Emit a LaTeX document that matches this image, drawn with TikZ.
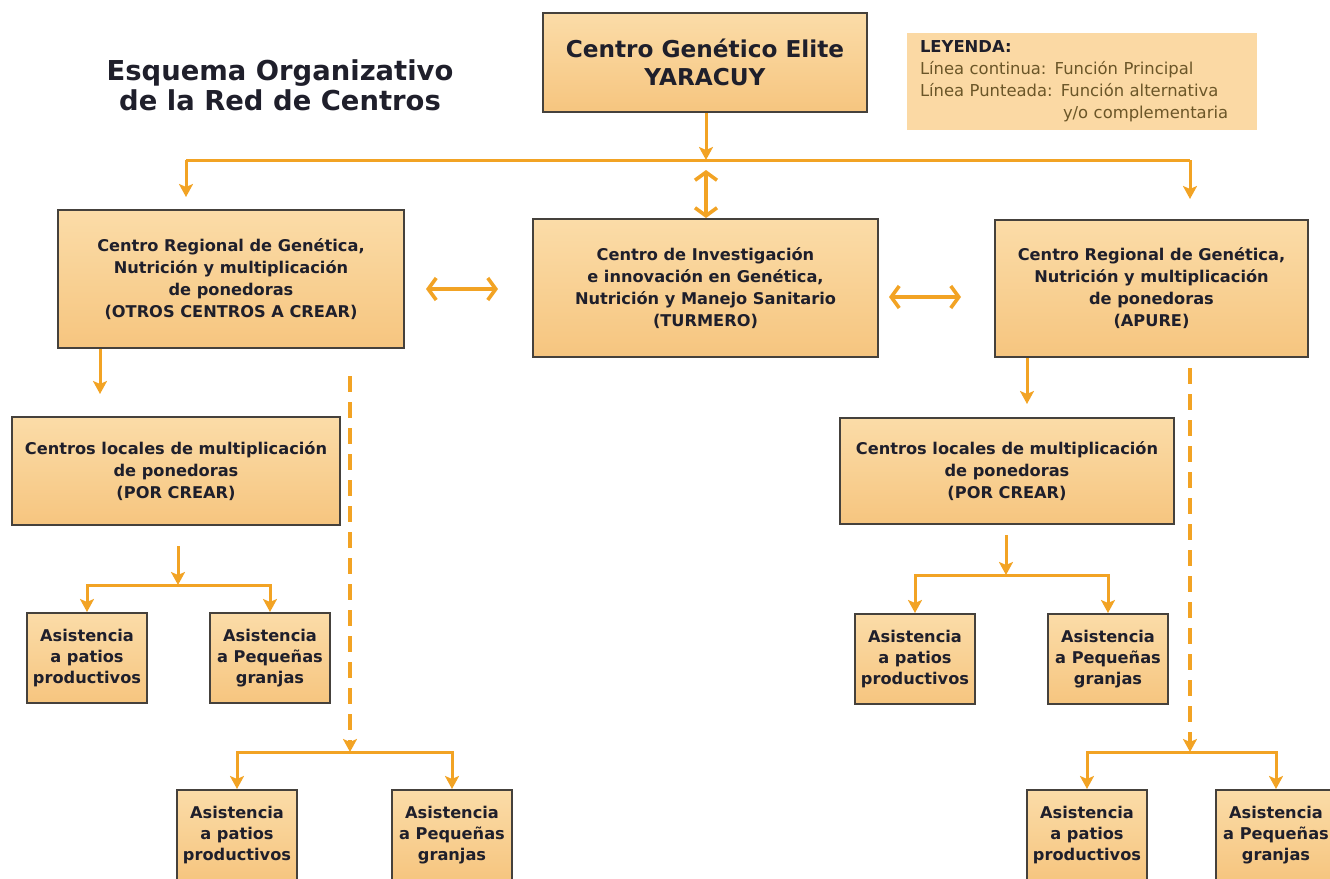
\documentclass[tikz,border=0pt]{standalone}
\usepackage{fontspec}
\setmainfont{DejaVu Sans}
\usepackage{tikz}
\usetikzlibrary{arrows.meta, positioning, calc}
\definecolor{RedLine}{HTML}{F2A324}
\definecolor{RedEdge}{HTML}{45413C}
\definecolor{RedTop}{HTML}{FBDCA8}
\definecolor{RedBottom}{HTML}{F6C57F}
\definecolor{RedLegend}{HTML}{FBD9A4}
\definecolor{RedInk}{HTML}{1F1F2B}
\definecolor{RedNote}{HTML}{6B5628}

\begin{document}
\begin{tikzpicture}[x=0.5pt, y=-0.5pt, every node/.style={font=\fontsize{8.1}{11}\selectfont\bfseries, text=RedInk}, >=Stealth]
      \tikzset{
        centro/.style={rectangle, draw=RedEdge, line width=1pt, top color=RedTop, bottom color=RedBottom, align=center, inner sep=0pt},
        asist/.style={centro, minimum width=60pt, minimum height=45pt, font=\fontsize{8.1}{10.5}\selectfont\bfseries},
        leyenda/.style={rectangle, fill=RedLegend, minimum width=175pt, minimum height=48.5pt, text width=162pt, align=left, inner sep=0pt, font=\fontsize{8.2}{11}\selectfont, text=RedNote},
        titulo/.style={align=center, font=\fontsize{13.7}{15}\selectfont\bfseries},
        barra/.style={line width=1.5pt, draw=RedLine},
        flecha/.style={-{Stealth[length=6.5pt, width=7pt, inset=1.5pt]}, line width=1.5pt, draw=RedLine},
        alterna/.style={flecha, line width=2pt, dash pattern=on 8pt off 5pt},
        doble/.style={{Straight Barb[length=4pt, width=11pt]}-{Straight Barb[length=4pt, width=11pt]}, line width=1.8pt, draw=RedLine}
      }
      \useasboundingbox (0,0) rectangle (1330,879);

      \node[titulo] (titulo) at (280,85) {Esquema Organizativo\\de la Red de Centros};
      \node[centro, minimum width=162pt, minimum height=49.5pt, font=\fontsize{11.6}{14}\selectfont\bfseries] (elite) at (705,62.5) {Centro Genético Elite\\YARACUY};
      \node[leyenda] (leyenda) at (1082,81.5) {{\color{RedInk}\bfseries LEYENDA:}\\Línea continua: Función Principal\\Línea Punteada: Función alternativa\\\hspace*{71.5pt}y/o complementaria};

      \node[centro, minimum width=173pt, minimum height=69pt] (regL) at (231,279) {Centro Regional de Genética,\\Nutrición y multiplicación\\de ponedoras\\(OTROS CENTROS A CREAR)};
      \node[centro, minimum width=172.5pt, minimum height=69pt] (inv) at (705.5,288) {Centro de Investigación\\e innovación en Genética,\\Nutrición y Manejo Sanitario\\(TURMERO)};
      \node[centro, minimum width=156.5pt, minimum height=68.5pt] (regR) at (1151.5,288.5) {Centro Regional de Genética,\\Nutrición y multiplicación\\de ponedoras\\(APURE)};

      \node[centro, minimum width=164pt, minimum height=54pt] (locL) at (176,471) {Centros locales de multiplicación\\de ponedoras\\(POR CREAR)};
      \node[centro, minimum width=167pt, minimum height=53pt] (locR) at (1007,471) {Centros locales de multiplicación\\de ponedoras\\(POR CREAR)};

      \node[asist] (patL1) at (87,658) {Asistencia\\a patios\\productivos};
      \node[asist] (peqL1) at (270,658) {Asistencia\\a Pequeñas\\granjas};
      \node[asist] (patL2) at (237,835) {Asistencia\\a patios\\productivos};
      \node[asist] (peqL2) at (452,835) {Asistencia\\a Pequeñas\\granjas};
      \node[asist] (patR1) at (915,659) {Asistencia\\a patios\\productivos};
      \node[asist] (peqR1) at (1108,659) {Asistencia\\a Pequeñas\\granjas};
      \node[asist] (patR2) at (1087,835) {Asistencia\\a patios\\productivos};
      \node[asist] (peqR2) at (1276,835) {Asistencia\\a Pequeñas\\granjas};

      % bus under the elite centre
      \coordinate (bus) at (706,160);
      \coordinate (busL) at (186,160);
      \coordinate (busR) at (1190,160);
      \draw[flecha] (elite.south -| bus) -- (bus);
      \draw[barra] (busL) -- (busR);
      \draw[flecha, shorten >=6pt] (busL) -- (busL |- regL.north);
      \draw[flecha, shorten >=10pt] (busR) -- (busR |- regR.north);
      \draw[doble, shorten <=5pt] (bus) -- (bus |- inv.north);
      \draw[doble, shorten <=10.5pt, shorten >=17pt] (regL.east |- 0,289) -- (inv.west |- 0,289);
      \draw[doble, shorten <=5pt, shorten >=16.5pt] (inv.east |- 0,297) -- (regR.west |- 0,297);

      % left branch
      \coordinate (hubL1) at (178,585);
      \coordinate (hubL2) at (350,752);
      \draw[flecha, shorten >=11pt] (regL.south -| 100,0) -- (locL.north -| 100,0);
      \draw[flecha, shorten <=10pt] (locL.south -| hubL1) -- (hubL1);
      \draw[flecha] (hubL1) -| (patL1);
      \draw[flecha] (hubL1) -| (peqL1);
      \draw[alterna, shorten <=13.5pt] (regL.south -| hubL2) -- (hubL2);
      \draw[flecha] (hubL2) -| (patL2);
      \draw[flecha] (hubL2) -| (peqL2);

      % right branch
      \coordinate (hubR1) at (1006,575);
      \coordinate (hubR2) at (1190,752);
      \draw[flecha, shorten >=6.5pt] (regR.south -| 1027,0) -- (locR.north -| 1027,0);
      \draw[flecha, shorten <=5pt] (locR.south -| hubR1) -- (hubR1);
      \draw[flecha] (hubR1) -| (patR1);
      \draw[flecha] (hubR1) -| (peqR1);
      \draw[alterna, shorten <=5pt] (regR.south -| hubR2) -- (hubR2);
      \draw[flecha] (hubR2) -| (patR2);
      \draw[flecha] (hubR2) -| (peqR2);
    \end{tikzpicture}
\end{document}
